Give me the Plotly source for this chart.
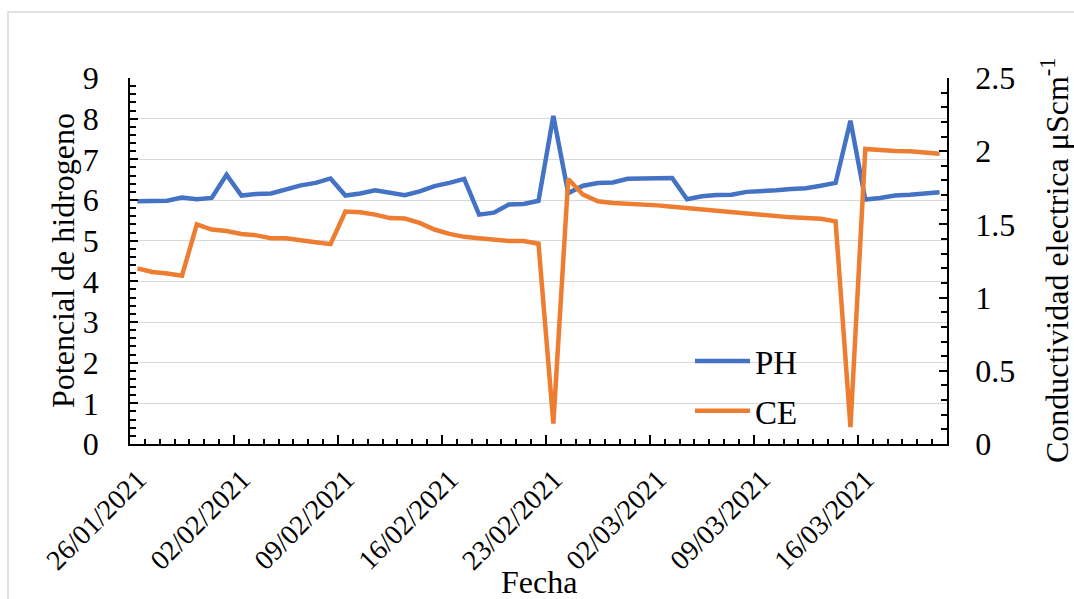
import datetime as dt
import plotly.graph_objects as go

# ---- data ----
start = dt.date(2021, 1, 26)
ph = [5.97, 5.98, 5.98, 6.06, 6.02, 6.05, 6.62, 6.11, 6.15, 6.16,
      6.27, 6.36, 6.42, 6.53, 6.11, 6.16, 6.24, 6.18, 6.12, 6.21,
      6.34, 6.42, 6.52, 5.64, 5.69, 5.89, 5.90, 5.98, 8.07, 6.17,
      6.35, 6.42, 6.43, 6.52, 6.52, 6.52, 6.54, 6.02, 6.09, 6.12,
      6.13, 6.20, 6.21, 6.24, 6.27, 6.29, 6.35, 6.42, 7.95, 6.01,
      6.05, 6.11, 6.13, 6.16, 6.19]
ce = [1.200, 1.175, 1.165, 1.150, 1.500, 1.465, 1.455, 1.435, 1.425, 1.405,
      1.405, 1.395, 1.378, 1.365, 1.588, 1.583, 1.567, 1.543, 1.540, 1.510,
      1.465, 1.435, 1.415, 1.405, 1.395, 1.387, 1.387, 1.368, 0.140, 1.810,
      1.703, 1.658, 1.646, 1.642, 1.639, 1.630, 1.621, 1.612, 1.601, 1.589,
      1.585, 1.578, 1.564, 1.557, 1.548, 1.544, 1.539, 1.521, 0.115, 2.015,
      2.006, 2.001, 1.999, 1.992, 1.983]
dates = [start + dt.timedelta(days=i) for i in range(len(ph))]
tick_labels = ["26/01/2021", "02/02/2021", "09/02/2021", "16/02/2021",
               "23/02/2021", "02/03/2021", "09/03/2021", "16/03/2021"]

# ---- positions ----
half = dt.timedelta(hours=12)
x_range = [dt.datetime.combine(dates[0], dt.time()) - half,
           dt.datetime.combine(dates[-1], dt.time()) + half]
label_dates = [dt.datetime.strptime(s, "%d/%m/%Y") for s in tick_labels]
major_vals = [d - half for d in label_dates]
minor_vals = [dt.datetime.combine(d, dt.time()) - half for d in dates] + [x_range[1]]

FONT = "Liberation Serif, Times New Roman, serif"
BLUE = "#4472C4"
ORANGE = "#ED7D31"

fig = go.Figure()
fig.add_trace(go.Scatter(x=dates, y=ph, name="PH", mode="lines",
                         line=dict(color=BLUE, width=4.5), legendgroup="a"))
fig.add_trace(go.Scatter(x=dates, y=ce, name="CE", mode="lines", yaxis="y2",
                         line=dict(color=ORANGE, width=4.5), legendgroup="b"))

L, R, T, B = 130, 127, 78, 155
W, H = 1074, 599
pw, ph_ = W - L - R, H - T - B

fig.update_layout(
    width=W, height=H,
    margin=dict(l=L, r=R, t=T, b=B),
    paper_bgcolor="white", plot_bgcolor="white",
    font=dict(family=FONT, size=30, color="black"),
    showlegend=True,
    legend=dict(x=(690 - L) / pw, y=(444 - 333) / ph_, xanchor="left", yanchor="top",
                bgcolor="rgba(0,0,0,0)", font=dict(family=FONT, size=33),
                tracegroupgap=4, traceorder="grouped", itemwidth=55),
    xaxis=dict(
        range=x_range, type="date",
        tickmode="array", tickvals=major_vals, ticktext=tick_labels,
        tickangle=-45, ticks="inside", ticklen=9, tickwidth=1.5, tickcolor="black",
        ticklabelshift=8, ticklabelstandoff=6,
        tickfont=dict(family=FONT, size=28),
        minor=dict(tickmode="array", tickvals=minor_vals, ticks="inside",
                   ticklen=5, tickwidth=1.5, tickcolor="black", showgrid=False),
        showline=True, linecolor="black", linewidth=1.5,
        showgrid=False, zeroline=False,
    ),
    yaxis=dict(
        range=[0, 9], dtick=1, tick0=0,
        ticks="inside", ticklen=8, tickwidth=1.5, tickcolor="black",
        minor=dict(dtick=0.2, ticks="inside", ticklen=6, tickwidth=1.5,
                   tickcolor="black", showgrid=False),
        showline=True, linecolor="black", linewidth=1.5,
        showgrid=True, gridcolor="#d9d9d9", gridwidth=1.3,
        zeroline=False, ticklabelstandoff=23,
        tickfont=dict(family=FONT, size=32),
    ),
    yaxis2=dict(
        range=[0, 2.5], dtick=0.5, tick0=0, overlaying="y", side="right",
        ticks="inside", ticklen=8, tickwidth=1.5, tickcolor="black",
        minor=dict(dtick=0.1, ticks="inside", ticklen=6, tickwidth=1.5,
                   tickcolor="black", showgrid=False),
        showline=True, linecolor="black", linewidth=1.5,
        showgrid=False, zeroline=False, ticklabelstandoff=20,
        tickfont=dict(family=FONT, size=32),
    ),
    shapes=[dict(type="rect", xref="paper", yref="paper",
                 x0=(8 - L) / pw, x1=(1080 - L) / pw,
                 y0=(H - B - 605) / ph_, y1=(H - B - 12) / ph_,
                 line=dict(color="#d9d9d9", width=1.5), fillcolor="rgba(0,0,0,0)",
                 layer="below")],
    annotations=[
        dict(text="Potencial de hidrogeno", xref="paper", yref="paper",
             x=(63 - L) / pw, y=0.5, textangle=-90, showarrow=False,
             font=dict(family=FONT, size=32), xanchor="center", yanchor="middle"),
        dict(text="Conductividad electrica μScm<sup>-1</sup>", xref="paper", yref="paper",
             x=(1055 - L) / pw, y=0.5, textangle=-90, showarrow=False,
             font=dict(family=FONT, size=32), xanchor="center", yanchor="middle"),
        dict(text="Fecha", xref="paper", yref="paper",
             x=0.5, y=(H - B - 582) / ph_, showarrow=False,
             font=dict(family=FONT, size=32), xanchor="center", yanchor="middle"),
    ],
)

fig.write_html("out.html")
